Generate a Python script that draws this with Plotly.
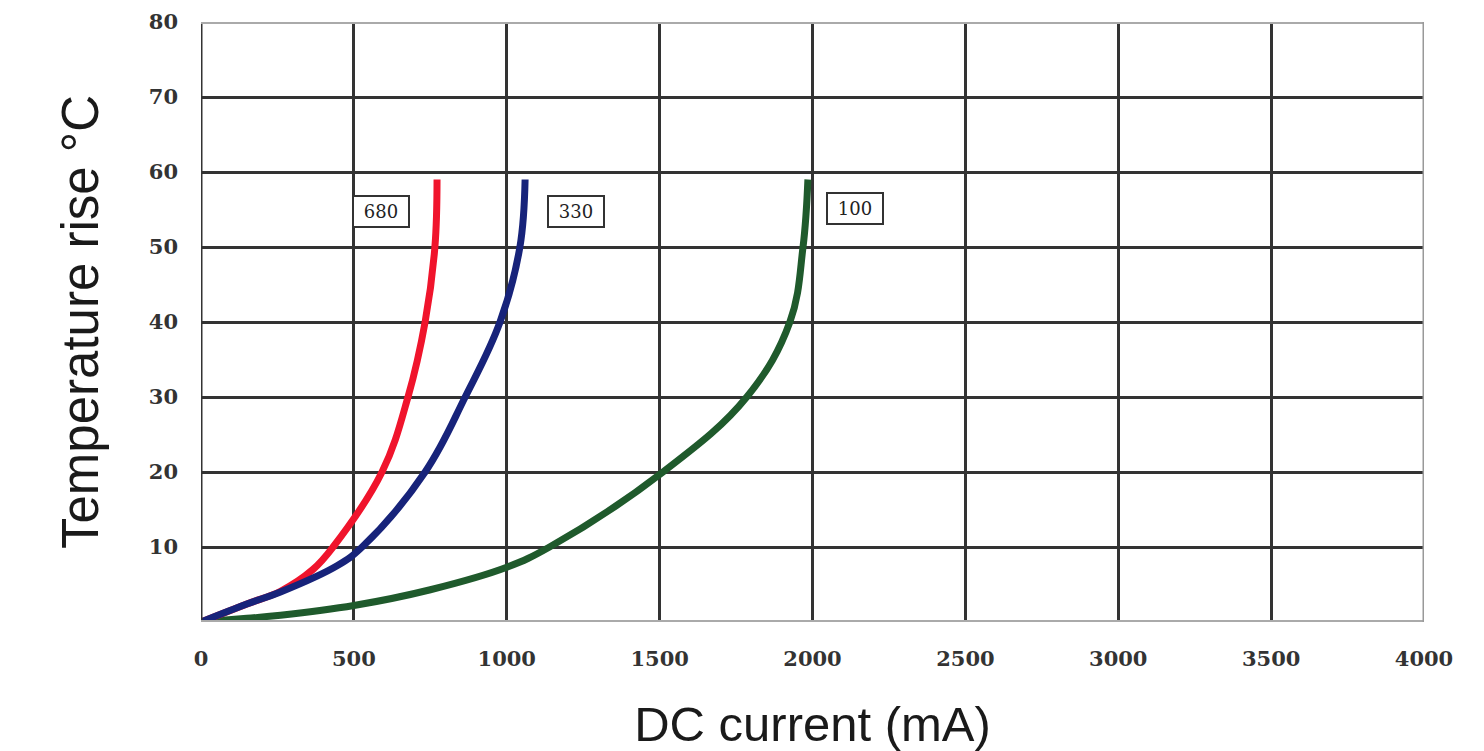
import plotly.graph_objects as go

# DC current (mA) vs temperature rise (°C) for three inductance values
x_680 = [0, 150, 260, 366, 432, 592, 677, 733, 765, 772]
y_680 = [0, 2.4, 4.1, 7, 10, 20, 30, 40, 50, 59]

x_330 = [0, 150, 260, 445, 527, 733, 864, 978, 1043, 1060]
y_330 = [0, 2.4, 4, 7.5, 10, 20, 30, 40, 50, 59]

x_100 = [0, 150, 260, 500, 750, 1000, 1140, 1511, 1785, 1926, 1969, 1985]
y_100 = [0, 0.5, 0.9, 2.2, 4.3, 7.3, 10, 20, 30, 40, 50, 59]

labels = ["680", "330", "100"]
label_x = [589, 1225, 2140]
label_y = [54.8, 54.8, 55.2]

x_ticks = [0, 500, 1000, 1500, 2000, 2500, 3000, 3500, 4000]
y_ticks = [10, 20, 30, 40, 50, 60, 70, 80]

fig = go.Figure()
for xs, ys, col in [(x_100, y_100, "#1f5a2c"), (x_680, y_680, "#f0142c"), (x_330, y_330, "#17237a")]:
    fig.add_trace(go.Scatter(x=xs, y=ys, mode="lines",
                             line=dict(color=col, width=7, shape="spline", smoothing=1.1),
                             showlegend=False, hoverinfo="skip"))

for t, lx, ly in zip(labels, label_x, label_y):
    fig.add_annotation(x=lx, y=ly, text="&nbsp;" + t + "&nbsp;", showarrow=False,
                       font=dict(family="DejaVu Serif", size=18, color="#222"),
                       bgcolor="white", bordercolor="#333", borderwidth=2, borderpad=4)

tick_font = dict(family="DejaVu Serif", size=21, color="#333", weight="bold")
title_font = dict(family="Liberation Sans", size=49, color="#1a1a1a")

fig.update_xaxes(range=[0, 4000], tickvals=x_ticks, ticktext=[str(v) for v in x_ticks],
                 showgrid=True, gridcolor="#333", gridwidth=3, automargin=False,
                 zeroline=False, showline=False, ticklabelstandoff=22,
                 tickfont=tick_font,
                 title=dict(text="DC current (mA)", standoff=36, font=title_font))
fig.update_yaxes(range=[0, 80], tickvals=y_ticks, ticktext=[str(v) for v in y_ticks],
                 showgrid=True, gridcolor="#333", gridwidth=3, automargin=False,
                 zeroline=False, showline=False, ticklabelstandoff=22,
                 tickfont=tick_font,
                 title=dict(text="Temperature rise °C", standoff=33,
                            font=dict(family="Liberation Sans", size=51, color="#1a1a1a")))

# Plot frame: dark left edge, lighter grey on the other sides
fig.add_shape(type="line", xref="x", yref="y", x0=0, x1=0, y0=0, y1=80,
              line=dict(color="#333", width=3))
fig.add_shape(type="line", xref="x", yref="y", x0=0, x1=4000, y0=0, y1=0,
              line=dict(color="#aaa", width=4))
fig.add_shape(type="line", xref="x", yref="y", x0=0, x1=4000, y0=80, y1=80,
              line=dict(color="#aaa", width=4))
fig.add_shape(type="line", xref="x", yref="y", x0=4000, x1=4000, y0=0, y1=80,
              line=dict(color="#999", width=3))

fig.update_layout(width=1484, height=751, plot_bgcolor="white", paper_bgcolor="white",
                  margin=dict(l=201, r=60, t=22, b=129))
fig.write_html("out.html")
